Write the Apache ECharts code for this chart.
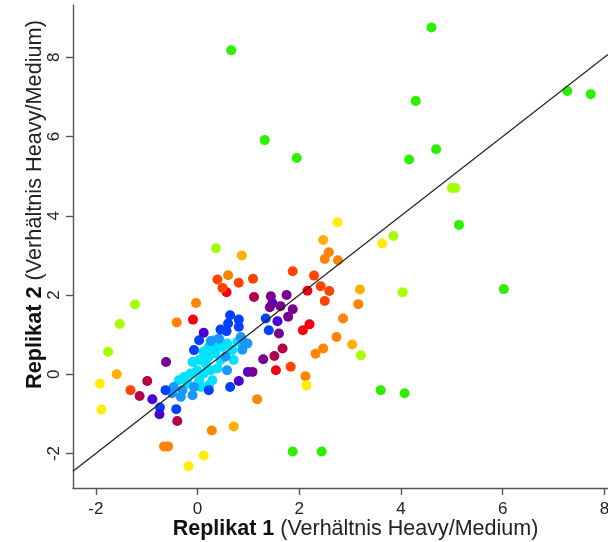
<!DOCTYPE html>
<html>
<head>
<meta charset="utf-8">
<script src="https://cdn.jsdelivr.net/npm/echarts@6/dist/echarts.min.js"></script>
<style>
html,body{margin:0;padding:0;background:#fff;}
#chart{width:608px;height:542px;}
</style>
</head>
<body>
<div id="chart"></div>
<script>
// ---- data (Replikat 1, Replikat 2), grouped by point colour ----
const xTicks = [-2, 0, 2, 4, 6, 8];
const yTicks = [-2, 0, 2, 4, 6, 8];
const xTitleBold = 'Replikat 1';
const yTitleBold = 'Replikat 2';
const titleRest = '(Verhältnis Heavy/Medium)';
const fitSlope = 1;
const fitIntercept = 0;

const cyanPts = [[-0.37,-0.15],[-0.27,-0.07],[-0.14,0.02],[-0.01,0.10],[0.03,0.36],[0.16,0.27],[0.22,0.44],[0.35,0.53],[0.39,0.69],[0.49,0.69],[0.58,0.78],[0.68,0.61],[0.78,0.82],[0.12,0.02],[0.26,0.10],[0.39,0.15],[0.45,0.36],[0.03,-0.15],[-0.20,-0.23],[0.22,-0.28],[0.29,-0.15],[0.71,0.36],[0.22,0.69],[0.12,0.57],[0.32,0.86],[-0.10,0.31],[0.12,0.40],[0.06,-0.32]];
const skyPts = [[0.85,0.94],[0.98,0.78],[0.92,0.80],[0.58,0.10],[-0.07,-0.32],[-0.30,-0.40],[-0.47,-0.32],[-0.50,-0.48],[-0.33,-0.57],[-0.10,-0.53],[0.42,0.90],[0.26,0.84],[0.88,0.62],[0.55,0.45]];
const bluePts = [[0.64,1.49],[0.60,1.28],[0.45,1.13],[0.81,1.38],[0.81,1.20],[0.03,0.86],[0.57,1.09],[-0.07,0.61],[1.34,1.41],[1.40,1.11],[-0.63,-0.40],[-0.42,-0.88],[-0.74,-0.84],[0.64,-0.32],[0.22,-0.40]];
const indigoPts = [[0.12,1.05],[0.99,0.06],[0.81,-0.17],[1.47,1.80],[1.57,1.34],[-0.89,-0.63],[-0.75,-1.01]];
const purplePts = [[1.29,0.38],[1.08,0.06],[1.44,1.97],[1.75,2.00],[1.63,1.72],[1.87,1.64],[1.42,1.69],[1.78,1.45],[1.60,1.03],[-0.62,0.31]];
const crimsonPts = [[1.67,0.65],[1.51,0.46],[1.11,1.95],[-0.99,-0.17],[-1.14,-0.55],[-0.40,-1.18]];
const redPts = [[2.16,2.11],[2.20,1.26],[2.07,1.11],[1.54,0.10],[0.57,2.07],[-0.09,1.38]];
const orangeRedPts = [[1.87,2.60],[1.09,2.41],[0.81,2.31],[2.29,2.49],[2.42,2.22],[2.59,2.10],[2.50,1.85],[1.83,0.19],[0.39,2.39],[0.49,2.18],[-1.32,-0.40]];
const orangePts = [[2.58,3.08],[2.50,2.91],[2.76,2.88],[3.16,1.77],[2.86,1.41],[2.73,0.94],[2.47,0.65],[2.32,0.52],[2.12,-0.05],[1.17,-0.63],[0.60,2.50],[-0.03,1.80],[-0.41,1.31],[-0.66,-1.82],[-0.58,-1.82],[0.28,-1.42]];
const amberPts = [[2.47,3.39],[0.87,3.00],[3.19,2.14],[-1.59,0.00],[0.71,-1.32],[3.04,0.75]];
const yellowPts = [[2.14,-0.28],[-1.92,-0.24],[-1.89,-0.89],[-0.18,-2.32],[0.12,-2.05],[3.63,3.30],[2.75,3.84]];
const limePts = [[3.85,3.49],[3.21,0.48],[-1.23,1.76],[-1.53,1.27],[-1.76,0.57],[0.36,3.18],[5.00,4.70],[5.07,4.70],[4.03,2.07]];
const greenPts = [[0.66,8.18],[4.60,8.75],[4.29,6.90],[1.32,5.91],[1.95,5.46],[4.16,5.42],[4.69,5.68],[5.14,3.77],[6.02,2.15],[7.27,7.15],[7.73,7.07],[3.60,-0.40],[4.07,-0.48],[1.87,-1.95],[2.44,-1.95]];

const groups = [
  {pts: cyanPts, color: '#00e2ff'},
  {pts: skyPts, color: '#1898ff'},
  {pts: bluePts, color: '#0040ff'},
  {pts: indigoPts, color: '#4a00d4'},
  {pts: purplePts, color: '#780090'},
  {pts: crimsonPts, color: '#b40048'},
  {pts: redPts, color: '#f20012'},
  {pts: orangeRedPts, color: '#ff4400'},
  {pts: orangePts, color: '#ff8400'},
  {pts: amberPts, color: '#ffb000'},
  {pts: yellowPts, color: '#ffee00'},
  {pts: limePts, color: '#a6ff00'},
  {pts: greenPts, color: '#2cf000'}
];

const xMin = -2.45, xMax = 8.07, yMin = -2.87, yMax = 9.32;

const chart = echarts.init(document.getElementById('chart'), null, {renderer: 'canvas'});
const series = groups.map(g => ({
  type: 'scatter',
  data: g.pts,
  symbolSize: 10,
  itemStyle: {color: g.color, opacity: 1},
  z: 2,
  silent: true
}));
series.push({
  type: 'line',
  data: [[xMin, fitIntercept + fitSlope * xMin], [xMax, fitIntercept + fitSlope * xMax]],
  symbol: 'none',
  lineStyle: {color: '#222', width: 1.3},
  z: 5,
  silent: true
});

const axisCommon = {
  type: 'value',
  axisLine: {show: true, onZero: false, lineStyle: {color: '#555', width: 1.4}},
  axisTick: {show: true, length: 7, inside: false, lineStyle: {color: '#555', width: 1.4}},
  splitLine: {show: false},
  nameMoveOverlap: false
};

chart.setOption({
  animation: false,
  backgroundColor: '#fff',
  grid: {left: 73, right: 0, top: 5, bottom: 54, containLabel: false, outerBoundsMode: 'none'},
  xAxis: Object.assign({}, axisCommon, {
    min: xMin, max: xMax,
    axisTick: Object.assign({}, axisCommon.axisTick, {customValues: xTicks}),
    axisLabel: {customValues: xTicks, fontSize: 17, color: '#222', fontFamily: 'Liberation Sans', margin: 13},
    name: '{b|' + xTitleBold + '} ' + titleRest,
    nameLocation: 'middle',
    nameGap: 30,
    nameTextStyle: {fontSize: 21.5, color: '#222', fontFamily: 'Liberation Sans', padding: [0, 0, 0, 30],
      rich: {b: {fontSize: 21.5, fontWeight: 'bold', color: '#111', fontFamily: 'Liberation Sans'}}}
  }),
  yAxis: Object.assign({}, axisCommon, {
    min: yMin, max: yMax,
    axisTick: Object.assign({}, axisCommon.axisTick, {customValues: yTicks}),
    axisLabel: {customValues: yTicks, fontSize: 17, color: '#222', fontFamily: 'Liberation Sans', rotate: 90, margin: 10},
    name: '{b|' + yTitleBold + '} ' + titleRest,
    nameLocation: 'middle',
    nameGap: 27,
    nameTextStyle: {fontSize: 21.7, color: '#222', fontFamily: 'Liberation Sans', padding: [0, 0, 0, 84],
      rich: {b: {fontSize: 21.7, fontWeight: 'bold', color: '#111', fontFamily: 'Liberation Sans'}}}
  }),
  series: series
});
</script>
</body>
</html>
